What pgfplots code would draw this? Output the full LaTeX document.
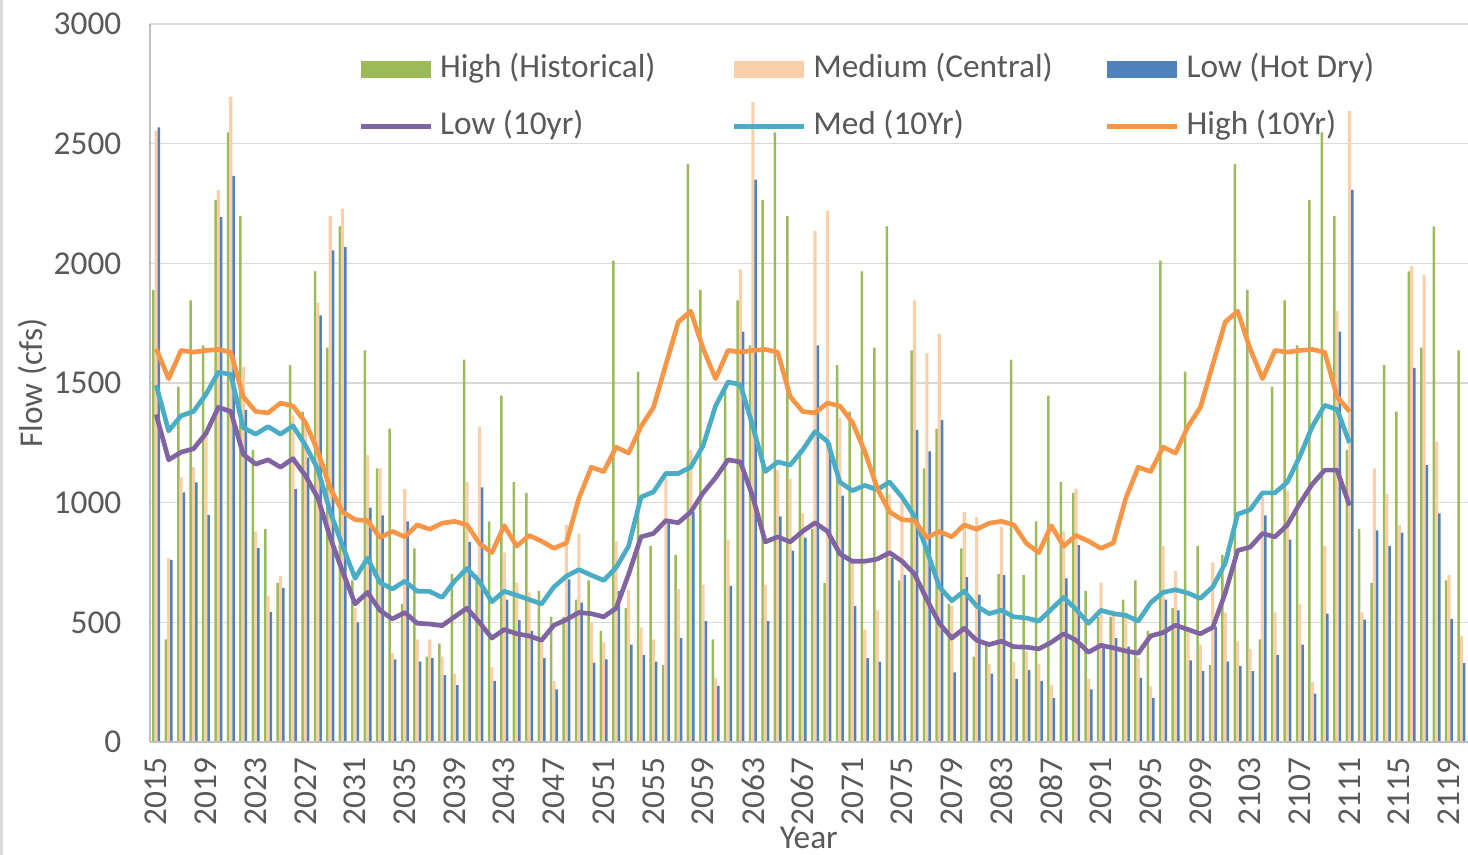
\documentclass[border=0pt]{standalone}
\usepackage{fontspec}
\setmainfont{Carlito}
\usepackage{pgfplots}
\pgfplotsset{compat=1.18}
\usepackage{pgfplotstable}
\usetikzlibrary{calc}
\definecolor{gc}{HTML}{9BBB59}
\definecolor{pc}{HTML}{FBCFA9}
\definecolor{bc}{HTML}{4F81BD}
\definecolor{lc}{HTML}{8064A2}
\definecolor{mc}{HTML}{4BACC6}
\definecolor{hc}{HTML}{F79646}
\definecolor{gridc}{HTML}{D9D9D9}
\definecolor{axisc}{HTML}{BFBFBF}
\definecolor{labc}{HTML}{595959}
\pgfplotstableread{
year G P B
2015 1889 2554 2568
2016 429 768 761
2017 1484 1107 1043
2018 1845 1148 1085
2019 1657 1290 948
2020 2265 2307 2193
2021 2547 2697 2365
2022 2197 1567 1387
2023 1220 880 810
2024 890 612 543
2025 665 693 644
2026 1575 1365 1056
2027 1380 1340 1188
2028 1966 1836 1782
2029 1648 2197 2054
2030 2154 2229 2068
2031 675 559 500
2032 1636 1200 979
2033 1143 1143 947
2034 1309 371 345
2035 577 1056 922
2036 809 429 336
2037 357 429 350
2038 411 357 279
2039 702 286 238
2040 1598 1086 836
2041 697 1318 1064
2042 922 313 255
2043 1447 791 595
2044 1086 666 509
2045 1041 625 464
2046 630 425 350
2047 523 255 220
2048 523 907 679
2049 595 871 582
2050 675 500 332
2051 464 416 345
2052 2011 839 630
2053 559 635 407
2054 1547 479 363
2055 818 429 336
2056 321 1104 916
2057 782 639 434
2058 2416 1220 961
2059 1889 657 505
2060 429 268 234
2061 1484 845 652
2062 1845 1975 1715
2063 1657 2675 2350
2064 2265 657 505
2065 2547 1136 943
2066 2197 1100 800
2067 1220 957 854
2068 890 2136 1657
2069 665 2220 1250
2070 1575 1354 1029
2071 1380 750 568
2072 1966 470 350
2073 1648 550 336
2074 2154 1036 768
2075 675 1005 697
2076 1636 1845 1304
2077 1143 1625 1214
2078 1309 1706 1345
2079 577 568 291
2080 809 961 689
2081 357 939 616
2082 411 327 286
2083 702 898 697
2084 1598 336 264
2085 697 380 300
2086 922 327 255
2087 1447 238 184
2088 1086 880 684
2089 1041 1059 822
2090 630 264 220
2091 523 666 393
2092 523 550 434
2093 595 541 398
2094 675 350 268
2095 464 232 184
2096 2011 818 595
2097 559 714 550
2098 1547 479 341
2099 818 407 296
2100 321 750 482
2101 782 541 336
2102 2416 421 318
2103 1889 389 296
2104 429 1023 947
2105 1484 541 363
2106 1845 1050 845
2107 1657 577 407
2108 2265 250 202
2109 2547 818 536
2110 2197 1800 1715
2111 1220 2636 2307
2112 890 541 511
2113 665 1143 884
2114 1575 1036 818
2115 1380 907 875
2116 1966 1988 1563
2117 1648 1952 1157
2118 2154 1255 955
2119 675 697 514
2120 1636 443 329
}\bars
\pgfplotstableread{
year L M H
2015 1368 1491 1643
2016 1179 1300 1518
2017 1211 1363 1636
2018 1225 1381 1629
2019 1289 1452 1636
2020 1398 1545 1640
2021 1381 1536 1629
2022 1202 1314 1443
2023 1161 1286 1381
2024 1179 1318 1375
2025 1148 1286 1416
2026 1184 1321 1404
2027 1113 1240 1336
2028 1020 1140 1215
2029 854 961 1060
2030 711 818 961
2031 577 684 929
2032 625 768 925
2033 550 666 854
2034 514 639 880
2035 541 672 857
2036 496 630 907
2037 493 629 889
2038 486 604 914
2039 523 672 922
2040 559 725 907
2041 500 670 830
2042 434 586 791
2043 470 630 904
2044 452 613 818
2045 443 595 863
2046 425 577 839
2047 488 648 809
2048 511 693 832
2049 541 720 1018
2050 536 697 1148
2051 523 675 1130
2052 559 729 1232
2053 700 818 1207
2054 857 1023 1318
2055 871 1045 1398
2056 925 1122 1577
2057 916 1122 1755
2058 961 1148 1800
2059 1041 1238 1643
2060 1104 1404 1518
2061 1179 1504 1636
2062 1170 1493 1629
2063 1023 1318 1636
2064 836 1130 1640
2065 857 1170 1629
2066 836 1157 1443
2067 880 1220 1381
2068 916 1297 1375
2069 880 1256 1416
2070 786 1086 1404
2071 755 1050 1336
2072 755 1072 1215
2073 764 1054 1060
2074 791 1086 961
2075 755 1023 929
2076 702 943 925
2077 595 800 854
2078 496 648 880
2079 434 590 857
2080 475 630 907
2081 425 568 889
2082 407 536 914
2083 421 550 922
2084 398 523 907
2085 396 518 830
2086 389 505 791
2087 416 554 904
2088 452 604 818
2089 425 554 863
2090 375 496 839
2091 404 550 809
2092 393 536 832
2093 380 529 1018
2094 371 505 1148
2095 443 582 1130
2096 457 625 1232
2097 488 636 1207
2098 470 622 1318
2099 452 600 1398
2100 479 648 1577
2101 622 747 1755
2102 800 952 1800
2103 814 970 1643
2104 871 1041 1518
2105 857 1041 1636
2106 907 1086 1629
2107 997 1193 1636
2108 1077 1318 1640
2109 1136 1407 1629
2110 1136 1389 1443
2111 988 1250 1381
}\lines
\begin{document}
\begin{tikzpicture}
\begin{axis}[
  scale only axis, width=395.3pt, height=215.4pt,
  xmin=2014.5, xmax=2120.5, ymin=0, ymax=3000,
  clip=false,
  ytick={0,500,...,3000}, xtick={2015,2019,...,2119},
  /pgf/number format/1000 sep={},
  /pgf/number format/assume math mode=true,
  ymajorgrids, grid style={color=gridc, line width=0.45pt},
  axis line style={draw=none},
  major tick length=0pt,
  tick label style={font=\fontsize{10}{12}\selectfont, text=labc, inner sep=0pt},
  xticklabel style={rotate=90, anchor=east},
  yticklabel style={anchor=east},
  xticklabel shift=4.5pt, yticklabel shift=8.4pt,
  xlabel={Year}, ylabel={Flow (cfs)},
  label style={font=\fontsize{10}{12}\selectfont, text=labc, inner sep=0pt},
  xlabel style={at={(axis description cs:0.5,-0.149)}, anchor=base},
  ylabel style={at={(axis description cs:-0.0812,0.5)}, anchor=base},
  legend columns=3,
  legend cell align=left,
  legend style={at={(axis description cs:0.1579,0.9577)}, anchor=north west,
    draw=none, fill=none, inner sep=0pt, outer sep=0pt,
    font=\fontsize{10}{12}\selectfont, text=labc, row sep=8.1pt,
    nodes={inner sep=0pt, text height=7pt, text depth=2pt},
    /tikz/every odd column/.append style={column sep=2.1pt}},
]
\addplot[ybar, bar width=0.75pt, bar shift=-0.83pt, fill=gc, draw=none,
  legend image code/.code={\fill[gc] (0pt,-2.6pt) rectangle (21pt,2.6pt);}]
  table[x=year, y=G] {\bars};
\addlegendentry{\makebox[87.4pt][l]{High (Historical)}}
\addplot[ybar, bar width=0.95pt, bar shift=0pt, fill=pc, draw=none,
  legend image code/.code={\fill[pc] (0pt,-2.6pt) rectangle (21pt,2.6pt);}]
  table[x=year, y=P] {\bars};
\addlegendentry{\makebox[87.4pt][l]{Medium (Central)}}
\addplot[ybar, bar width=0.75pt, bar shift=0.83pt, fill=bc, draw=none,
  legend image code/.code={\fill[bc] (0pt,-2.6pt) rectangle (21pt,2.6pt);}]
  table[x=year, y=B] {\bars};
\addlegendentry{\makebox[87.4pt][l]{Low (Hot Dry)}}
\addplot[lc, line width=1.4pt, line join=round, mark=none,
  legend image code/.code={\draw[lc, line width=1.5pt] (0pt,0pt) -- (21pt,0pt);}]
  table[x=year, y=L] {\lines};
\addlegendentry{\makebox[87.4pt][l]{Low (10yr)}}
\addplot[mc, line width=1.4pt, line join=round, mark=none,
  legend image code/.code={\draw[mc, line width=1.5pt] (0pt,0pt) -- (21pt,0pt);}]
  table[x=year, y=M] {\lines};
\addlegendentry{\makebox[87.4pt][l]{Med (10Yr)}}
\addplot[hc, line width=1.4pt, line join=round, mark=none,
  legend image code/.code={\draw[hc, line width=1.5pt] (0pt,0pt) -- (21pt,0pt);}]
  table[x=year, y=H] {\lines};
\addlegendentry{\makebox[87.4pt][l]{High (10Yr)}}
\draw[axisc, line width=0.45pt] (rel axis cs:0,0) -- (rel axis cs:0,1);
\draw[axisc, line width=0.6pt] (rel axis cs:0,0) -- (rel axis cs:1,0);
\end{axis}
\fill[gridc] ($(current axis.south west)+(-45pt,-33.9pt)$) rectangle ($(current axis.north west)+(-44.1pt,7.2pt)$);
\pgfresetboundingbox
\useasboundingbox ($(current axis.south west)+(-45pt,-33.9pt)$) rectangle ($(current axis.north east)+(0.12pt,7.2pt)$);
\end{tikzpicture}
\end{document}
